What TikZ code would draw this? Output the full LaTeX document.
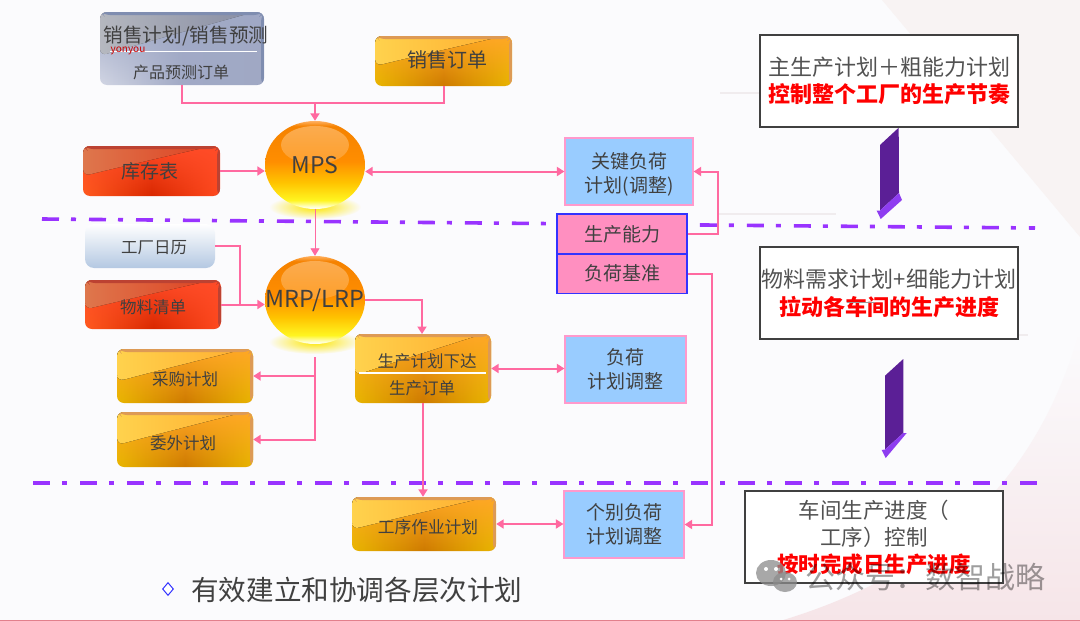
\documentclass[tikz,border=0pt]{standalone}
\usepackage{fontspec}
\setmainfont{Noto Sans CJK SC}
\usetikzlibrary{arrows.meta,shapes.geometric,fadings,calc}
\definecolor{bgc}{HTML}{FBFBFD}
\definecolor{lnk}{HTML}{FF69A0}
\definecolor{dashc}{HTML}{9933FF}
\definecolor{txt}{HTML}{404040}
\definecolor{bluebox}{HTML}{99CCFF}
\definecolor{pinkb}{HTML}{FF99CC}
\definecolor{capf}{HTML}{FF8FC0}
\definecolor{capd}{HTML}{3333FF}
\definecolor{arb}{HTML}{5B1F96}
\definecolor{arh}{HTML}{8E3DF0}
\definecolor{orA}{HTML}{E8B600}\definecolor{orB}{HTML}{CE7A00}
\definecolor{orC}{HTML}{FFA726}\definecolor{orD}{HTML}{FFD24D}\definecolor{orE}{HTML}{FFAE30}\definecolor{orF}{HTML}{DD9A55}
\definecolor{reA}{HTML}{FF5A1F}\definecolor{reB}{HTML}{D92800}\definecolor{reC}{HTML}{FF4A1F}
\definecolor{reD}{HTML}{FF4C28}\definecolor{reE}{HTML}{FF8A5A}\definecolor{reF}{HTML}{FF4C28}\definecolor{reG}{HTML}{BC4232}
\definecolor{siA}{HTML}{D2D6E4}\definecolor{siB}{HTML}{A2AAC6}\definecolor{siC}{HTML}{A0A8C4}
\definecolor{siD}{HTML}{A0A9C6}\definecolor{siE}{HTML}{E4E7EF}\definecolor{siF}{HTML}{A8AFCA}\definecolor{siG}{HTML}{7F8DB0}
\definecolor{paleb}{HTML}{B4C8E2}\definecolor{orbgl}{HTML}{FFBE70}\definecolor{fnt}{HTML}{F0ECEE}
\definecolor{baA}{HTML}{FFB060}\definecolor{baB}{HTML}{FFF520}\definecolor{baC}{HTML}{FFC400}\definecolor{baD}{HTML}{FF8E00}\definecolor{baE}{HTML}{F58200}\definecolor{baF}{HTML}{FFFFC8}
\definecolor{bgp}{HTML}{F8F3F3}\definecolor{bgq}{HTML}{F6E5E8}\definecolor{botl}{HTML}{E2808C}
\tikzfading[name=fadedown, top color=transparent!0, bottom color=transparent!100]
\tikzfading[name=fadehalf, top color=transparent!0, middle color=transparent!25, bottom color=transparent!100]
\tikzfading[name=softc, inner color=transparent!0, outer color=transparent!100]
\pgfdeclareverticalshading{ballshade}{100bp}{color(0bp)=(white);color(25bp)=(white);color(26.5bp)=(baF);color(30bp)=(baB);color(40bp)=(baC);color(52bp)=(baD);color(72bp)=(baE);color(75bp)=(baA);color(100bp)=(baA)}
\newcommand{\pbb}[1]{path picture bounding box.#1}
\newcommand{\glossy}[6]{%
  \fill[#1,path fading=fadehalf] (\pbb{north west}) rectangle (\pbb{south east});
  \fill[left color=#2,right color=#3,opacity=#5]
    (\pbb{north west}) -- ($(\pbb{north west})!0.6!(\pbb{south west})$)
    .. controls ($(\pbb{north west})!0.3!(\pbb{north east})+(0,0.40*#6)$)
    and ($(\pbb{north west})!0.65!(\pbb{north east})+(0,0.18*#6)$)
    .. ($(\pbb{north west})!0.94!(\pbb{north east})$) -- cycle;
  \fill[#4] (\pbb{north west}) -- (\pbb{north east}) -- ($(\pbb{north east})+(-3,3)$) -- ($(\pbb{north west})+(3,3)$) -- cycle;
  \fill[#4] (\pbb{north east}) -- (\pbb{south east}) -- ($(\pbb{south east})+(-3,0)$) -- ($(\pbb{north east})+(-3,3)$) -- cycle;
}
\newcommand{\fs}[1]{\fontsize{#1}{#1}\selectfont}
\newcommand{\fsl}[2]{\fontsize{#1}{#2}\selectfont}
\newcommand{\redl}[1]{\textcolor{red}{\bfseries #1}}
% single-line label: size, downward nudge, text
\newcommand{\tx}[3]{\fs{#1}\raisebox{\dimexpr -#2pt-0.38em\relax}[0pt][0pt]{#3}}
\tikzset{
  boxbase/.style={rounded corners=7,inner sep=0,text=txt,align=center},
  orangebtn/.style={boxbase,left color=orA,right color=orA,middle color=orB,
    path picture={\glossy{orC}{orD}{orE}{orF}{1}{#1}}},
  redbtn/.style={boxbase,left color=reA,right color=reC,middle color=reB,
    path picture={\glossy{reD}{reE}{reF}{reG}{0.85}{#1}}},
  silverbtn/.style={boxbase,left color=siA,right color=siC,middle color=siB,
    path picture={\glossy{siD}{siE}{siF}{siG}{0.75}{#1}}},
  palebtn/.style={boxbase,rounded corners=9,top color=white,bottom color=paleb},
  planbox/.style={draw=pinkb,line width=1.2,fill=bluebox,inner sep=0,align=center,text=txt,font={\fsl{19}{24}}},
  capbox/.style={draw=capd,line width=1.5,fill=capf,inner sep=0,align=center,text=txt},
  notebox/.style={draw=black!75,line width=1.1,fill=white,inner sep=0,align=center,text=black!68,minimum width=258,minimum height=92},
  link/.style={draw=lnk,line width=2,line join=miter},
  tip/.style={-{Triangle[length=7.5pt,width=9pt]}},
  tips/.style={{Triangle[length=7.5pt,width=9pt]}-{Triangle[length=7.5pt,width=9pt]}},
  dashrule/.style={draw=dashc,line width=3.6,dash pattern=on 17pt off 12pt on 5pt off 13pt},
  faint/.style={draw=fnt,line width=1.2},
  lab/.style={inner sep=0,text=txt,align=center},
  orb/.style={ellipse,inner sep=0,minimum width=100,minimum height=88,shading=ballshade,text=txt,
    path picture={\fill[orbgl,opacity=.75,path fading=fadedown] ($(\pbb{center})+(0,-20)$) ellipse [x radius=34,y radius=19];}},
  orbshadow/.style={yellow!90!orange,path fading=softc},
}
\begin{document}
\begin{tikzpicture}[x=1pt,y=-1pt]
\useasboundingbox (0,0) rectangle (1080,621);
% background
\fill[bgc] (0,0) rectangle (1080,621);
\fill[bgp] (882,0) -- (1080,0) -- (1080,237) -- cycle;
\shade[top color=bgc,bottom color=bgq] (780,621) .. controls (950,570) and (1040,470) .. (1080,330) -- (1080,621) -- cycle;
\fill[botl] (0,619.5) rectangle (1080,621);
\draw[faint] (720,93) -- (760,93);
\draw[faint] (718,214) -- (836,214);
\draw[faint] (910,335) -- (1028,335);
% dash-dot rules
\coordinate (r1a) at (42,219); \coordinate (r1b) at (1035,228);
\coordinate (r2a) at (33,483); \coordinate (r2b) at (1038,483);
\draw[dashrule] (r1a) -- (r1b);
\draw[dashrule] (r2a) -- (r2b);
% sphere shadows
\fill[orbshadow] (315,207) ellipse [x radius=46,y radius=12];
\fill[orbshadow] (315,342) ellipse [x radius=46,y radius=12];
% spheres
\node[orb] (mps) at (315,165) {\fs{23}MPS};
\node[orb] (mrp) at (315,300) {\fs{23.4}\makebox[0pt][c]{MRP/LRP}};
% top boxes
\node[silverbtn=73,minimum width=164,minimum height=73] (plan) at (182,48.5) {};
\draw[white,line width=1] (110,51) -- (257,51);
\node[lab] (plana) at (186,36) {\fs{19.6}销售计划/销售预测};
\node[lab] (planb) at (181,72) {\fs{16}产品预测订单};
\node[inner sep=0,text=red!80!black] (yy) at (128,51) {\fs{10}yonyou};
\node[orangebtn=50,minimum width=137,minimum height=50] (order) at (443.5,61) {\hspace*{7pt}\tx{20}{-1}{销售订单}};
\node[redbtn=50,minimum width=137,minimum height=50] (stock) at (151.5,171) {\hspace*{-4pt}\tx{19}{0}{库存表}};
\node[palebtn,minimum width=130,minimum height=44] (cal) at (150,246) {\hspace*{8pt}\tx{16.5}{1}{工厂日历}};
\node[redbtn=49,minimum width=136,minimum height=49] (bom) at (153,304.5) {\tx{16.5}{2.5}{物料清单}};
\node[orangebtn=54,minimum width=136,minimum height=54] (buy) at (185,376) {\tx{16.5}{3}{采购计划}};
\node[orangebtn=55,minimum width=136,minimum height=55] (out) at (185,439.5) {\hspace*{-4pt}\tx{16.5}{3.5}{委外计划}};
\node[orangebtn=69,minimum width=136,minimum height=69] (prod) at (423,368.5) {};
\draw[white,line width=1.2] (359,373) -- (486,373);
\node[lab] (proda) at (427,361) {\fs{16.5}生产计划下达};
\node[lab] (prodb) at (422,388) {\fs{16.5}生产订单};
\node[orangebtn=54,minimum width=144,minimum height=54] (op) at (424,524) {\hspace*{8pt}\tx{16.7}{3}{工序作业计划}};
% blue boxes
\node[planbox,minimum width=128,minimum height=67] (key) at (629,171.5) {\rule{0pt}{21pt}关键负荷\\计划(调整)};
\node[planbox,minimum width=121,minimum height=67] (adj) at (625.5,369.5) {负荷\\计划调整};
\node[planbox,minimum width=120,minimum height=67] (ind) at (624,524.5) {个别负荷\\计划调整};
\node[capbox,minimum width=130,minimum height=40] (cap) at (622,234) {\fs{19}生产能力};
\node[capbox,minimum width=130,minimum height=39.5] (base) at (622,273.5) {\fs{19}负荷基准};
% connectors
\coordinate (j1) at (315,103);
\draw[link] (plan.south) |- (j1) -| (order.south);
\draw[link,tip] (j1) -- (mps.north);
\draw[link,tip] (stock.east) -- (mps.west |- stock.east);
\draw[link,tips] (mps.east |- key.west) -- (key.west);
\draw[link,tip] (cap.east) -| ($(key.east)+(24,0)$) -- (key.east);
\draw[link,tip] (base.east) -| ($(ind.east)+(27,0)$) -- (ind.east);
\draw[draw=lnk,line width=0.8,tip] (mps.south) -- (mrp.north);
\coordinate (j2) at (240,305);
\draw[link] (cal.east) -| (j2);
\draw[link,tip] (bom.east) -- (mrp.west |- bom.east);
\coordinate (pin) at (422,334);
\draw[link,tip] (mrp.east) -| (pin);
\coordinate (m0) at (315,357);
\draw[link,tip] (m0) |- (out.east);
\draw[link,tip] (m0 |- buy.east) -- (buy.east);
\draw[link,tip] (prod.south) -- (op.north -| prod.south);
\draw[link,tips] (prod.east) -- (prod.east -| adj.west);
\draw[link,tips] (op.east) -- (op.east -| ind.west);
% notes
\node[notebox,font={\fsl{22}{27}}] (n1) at (889,81) {主生产计划＋粗能力计划\\\redl{控制整个工厂的生产节奏}};
\node[notebox,font={\fsl{22}{28}}] (n2) at (889,293) {物料需求计划+细能力计划\\\redl{拉动各车间的生产进度}};
\node[notebox,font={\fsl{21.5}{27}}] (n3) at (874,537) {车间生产进度（\\工序）控制\\\redl{按时完成日生产进度}};
\draw[draw=gray!80,line width=1] (847,302) -- (875,302);
% purple block arrows
\fill[arb] (880,145) -- (898.7,127.7) -- (899,193) -- (880,210.5) -- cycle;
\fill[arh] (876.7,210.7) -- (880.7,219) -- (902,200) -- (899,193) -- (880,210.5) -- cycle;
\fill[arb] (885,375.7) -- (903.3,359) -- (903.3,433) -- (885,449.5) -- cycle;
\fill[arh] (881.7,450) -- (885.7,458) -- (906.7,433) -- (903.3,433) -- (885,449.5) -- cycle;
% bottom caption
\node[diamond,draw=capd,line width=1,fill=white,inner sep=0,minimum width=11,minimum height=13] (bul) at (168,589) {};
\node[lab,anchor=west] (cap2) at (191,590) {\fs{27.6}有效建立和协调各层次计划};
% watermark
\fill[black!45,opacity=.75] (771,573) ellipse [x radius=15,y radius=13];
\fill[black!45,opacity=.75] (785,582) ellipse [x radius=12,y radius=10];
\fill[white] (766,569) circle (2); \fill[white] (776,569) circle (2);
\fill[white] (781,579) circle (1.5); \fill[white] (789,579) circle (1.5);
\node[inner sep=0,text=black,text opacity=.38] (wm) at (925,577) {\fs{30}公众号：数智战略};
\end{tikzpicture}
\end{document}
